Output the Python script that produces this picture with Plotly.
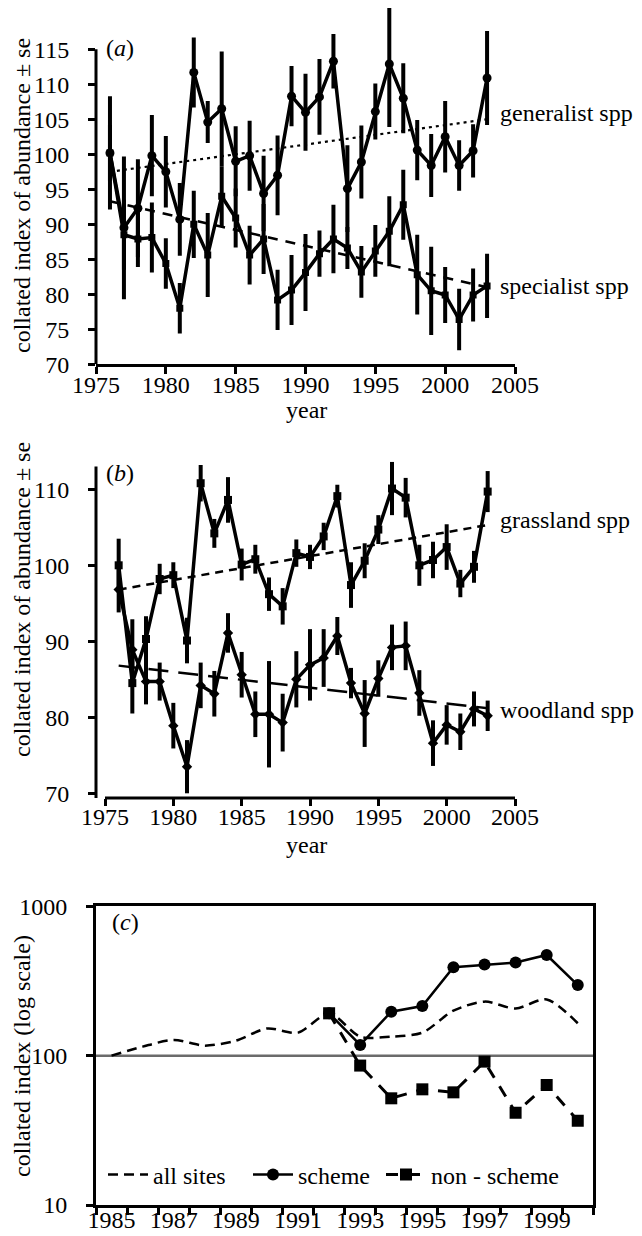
import plotly.graph_objects as go

# The page places the figure 8 px in from the top-left corner, so the figure is
# 8 px smaller than the window and every pixel position below is given in window
# coordinates and converted with that offset.
WIN_W, WIN_H = 642, 1236
OX, OY = 8, 8
W, H = WIN_W - OX, WIN_H - OY
FONT = "Liberation Serif, Times New Roman, Tinos, DejaVu Serif, serif"
FS = 24

# ---------------- data ----------------
# panel (a)
years_ab = list(range(1976, 2004))
generalist = [100.2, 89.5, 92.3, 99.8, 97.5, 90.7, 111.7, 104.6, 106.5, 99.0, 99.8, 94.4, 97.0, 108.3,
              106.0, 108.2, 113.3, 95.1, 98.9, 106.1, 112.9, 108.0, 100.6, 98.4, 102.5, 98.4, 100.5, 110.9]
generalist_se = [8.1, 10.2, 7.0, 5.8, 5.1, 5.2, 5.0, 3.0, 8.2, 5.0, 5.0, 5.4, 5.7, 4.3,
                 5.5, 5.4, 3.9, 6.2, 5.2, 4.0, 9.0, 5.0, 4.3, 4.5, 5.1, 3.6, 3.8, 6.7]
specialist = [100.2, 88.5, 87.9, 88.1, 84.4, 78.0, 90.0, 85.6, 94.0, 90.9, 85.6, 87.9, 79.2, 80.6,
              83.1, 85.8, 87.9, 86.6, 83.2, 86.2, 89.0, 92.8, 82.8, 80.5, 79.9, 76.4, 79.9, 81.2]
specialist_se = [4.0, 5.0, 4.0, 5.0, 3.6, 3.6, 4.8, 6.0, 4.3, 4.2, 4.2, 5.0, 4.3, 5.0,
                 5.5, 3.3, 4.9, 3.0, 3.7, 3.7, 5.0, 5.0, 5.7, 6.3, 4.0, 4.4, 3.8, 4.6]
trend_years = [1976, 2003]
generalist_trend = [97.5, 105.0]
specialist_trend = [93.3, 81.0]
ticks_a_x = [1975, 1980, 1985, 1990, 1995, 2000, 2005]
ticks_a_y = [70, 75, 80, 85, 90, 95, 100, 105, 110, 115]

# panel (b)
grassland = [100.0, 84.5, 90.3, 98.2, 98.7, 90.1, 110.8, 104.2, 108.6, 100.1, 100.8, 96.2, 94.6, 101.6,
             101.1, 103.8, 109.1, 97.4, 100.6, 104.7, 110.1, 108.9, 100.0, 100.7, 102.4, 97.6, 99.8, 109.7]
grassland_se = [3.5, 4.0, 3.0, 2.0, 1.7, 3.0, 2.4, 1.9, 3.0, 2.1, 1.9, 2.2, 2.4, 1.8,
                1.6, 1.8, 1.5, 3.0, 2.3, 1.9, 3.5, 2.6, 2.7, 2.4, 3.0, 1.8, 2.1, 2.7]
woodland = [96.8, 88.9, 84.7, 84.7, 78.9, 73.5, 84.2, 83.1, 91.1, 85.6, 80.4, 80.4, 79.3, 85.0,
            86.9, 87.8, 90.7, 84.5, 80.5, 85.1, 89.2, 89.4, 83.2, 76.6, 79.0, 78.1, 81.1, 80.2]
woodland_se = [3.0, 4.0, 3.0, 2.5, 3.0, 3.5, 3.0, 3.0, 2.6, 3.0, 3.0, 7.0, 3.8, 3.7,
               4.7, 3.8, 2.5, 2.0, 4.4, 2.4, 3.0, 3.2, 3.0, 3.0, 2.6, 2.4, 2.3, 2.0]
grassland_trend = [96.8, 105.3]
woodland_trend = [86.8, 81.2]
ticks_b_y = [70, 80, 90, 100, 110]

# panel (c)
years_c = list(range(1985, 2001))
all_sites = [100, 114.9, 127.4, 116.7, 126, 152, 142.6, 192, 134, 134, 142.6, 200, 230, 207, 238, 164.8]
years_scheme = list(range(1992, 2001))
scheme = [192, 118, 197, 215, 391, 407, 420, 472, 297]
non_scheme = [192, 85.8, 51.8, 59.5, 56.8, 91.2, 41.5, 63.7, 36.7]
ticks_c_x = [1985, 1987, 1989, 1991, 1993, 1995, 1997, 1999]
ticks_c_y = [10, 100, 1000]
reference_level = 100


# ---------------- layout helpers ----------------
def px(x):
    return (x - OX) / W


def py(y):
    return 1 - (y - OY) / H


BLACK = "black"
LW = 3.5
EBW = 4

fig = go.Figure()


def series(x, y, se, symbol, size, xa, ya):
    return go.Scatter(
        x=x, y=y, mode="lines+markers", xaxis=xa, yaxis=ya, showlegend=False,
        line=dict(color=BLACK, width=LW),
        marker=dict(symbol=symbol, size=size, color=BLACK),
        error_y=dict(type="data", array=se, visible=True, color=BLACK, thickness=EBW, width=0),
    )


# ---- panel (a) ----
fig.add_trace(go.Scatter(x=trend_years, y=generalist_trend, mode="lines", xaxis="x", yaxis="y",
                         showlegend=False, line=dict(color=BLACK, width=2.2, dash="3px,4px")))
fig.add_trace(go.Scatter(x=trend_years, y=specialist_trend, mode="lines", xaxis="x", yaxis="y",
                         showlegend=False, line=dict(color=BLACK, width=2.5, dash="10px,8px")))
fig.add_trace(series(years_ab, generalist, generalist_se, "circle", 9, "x", "y"))
fig.add_trace(series(years_ab, specialist, specialist_se, "square", 7, "x", "y"))

# ---- panel (b) ----
fig.add_trace(go.Scatter(x=trend_years, y=grassland_trend, mode="lines", xaxis="x2", yaxis="y2",
                         showlegend=False, line=dict(color=BLACK, width=2.5, dash="8px,6px")))
fig.add_trace(go.Scatter(x=trend_years, y=woodland_trend, mode="lines", xaxis="x2", yaxis="y2",
                         showlegend=False, line=dict(color=BLACK, width=2.5, dash="20px,10px")))
fig.add_trace(series(years_ab, grassland, grassland_se, "square", 8, "x2", "y2"))
fig.add_trace(series(years_ab, woodland, woodland_se, "diamond", 8, "x2", "y2"))

# ---- panel (c) ----
fig.add_trace(go.Scatter(x=years_c, y=all_sites, mode="lines", name="all sites", xaxis="x3", yaxis="y3",
                         legendwidth=90,
                         line=dict(color=BLACK, width=2.5, dash="10px,6px", shape="spline", smoothing=0.8)))
fig.add_trace(go.Scatter(x=years_scheme, y=scheme, mode="lines+markers", name="scheme", xaxis="x3", yaxis="y3",
                         legendwidth=78,
                         line=dict(color=BLACK, width=2.5), marker=dict(symbol="circle", size=12, color=BLACK)))
fig.add_trace(go.Scatter(x=years_scheme, y=non_scheme, mode="lines+markers", name="non - scheme",
                         xaxis="x3", yaxis="y3",
                         line=dict(color=BLACK, width=3, dash="12px,10px"),
                         marker=dict(symbol="square", size=12, color=BLACK)))

# ---------------- axes ----------------
tickfont = dict(family=FONT, size=FS, color=BLACK)
common = dict(showgrid=False, zeroline=False, ticks="outside", tickcolor=BLACK, tickwidth=2.5,
              ticklen=7, tickfont=tickfont, linecolor=BLACK, linewidth=3, automargin=False)

# panel (a): 1975 at px 96, 2005 at px 515; 70 at py 364.3, 7 px per unit
a_left, a_right, a_bottom, a_top = 96, 515, 364.3, OY
a_y_px_per_unit = 7.0
a_y_top_val = ticks_a_y[0] + (a_bottom - a_top) / a_y_px_per_unit

# panel (b): y axis at px 96, 1975 at px 105, 2005 at px 515; 110 at py 489.3, 7.6 px per unit
b_left, b_right, b_bottom, b_top = 96, 515, 798, 455
b_x0_px = 105
b_x_px_per_year = (b_right - b_x0_px) / (ticks_a_x[-1] - ticks_a_x[0])
b_x_start = ticks_a_x[0] - (b_x0_px - b_left) / b_x_px_per_year
b_ref_val, b_ref_px, b_ppu = 110, 489.3, 7.6
b_y_bottom = b_ref_val - (b_bottom - b_ref_px) / b_ppu
b_y_top = b_ref_val + (b_ref_px - b_top) / b_ppu

# panel (c)
c_left, c_right, c_bottom, c_top = 96, 593.3, 1205, 906.3
c_half = 0.5
c_minor = [y - c_half for y in years_c] + [years_c[-1] + c_half]

XSO = -10   # x tick label standoff
YSO = 14    # y tick label standoff

fig.update_layout(
    width=W, height=H, margin=dict(l=0, r=0, t=0, b=0, pad=0, autoexpand=False),
    plot_bgcolor="white", paper_bgcolor="white",
    font=dict(family=FONT, size=FS, color=BLACK),
    xaxis=dict(common, domain=[px(a_left), px(a_right)], range=[ticks_a_x[0], ticks_a_x[-1]],
               tickvals=ticks_a_x, showline=True, anchor="y", ticklabelstandoff=XSO),
    yaxis=dict(common, domain=[py(a_bottom), py(a_top)], range=[ticks_a_y[0], a_y_top_val],
               tickvals=ticks_a_y, showline=False, anchor="x", ticklabelstandoff=YSO),
    xaxis2=dict(common, domain=[px(b_left), px(b_right)], range=[b_x_start, ticks_a_x[-1]],
                tickvals=ticks_a_x, showline=False, anchor="y2", ticklabelstandoff=XSO),
    yaxis2=dict(common, domain=[py(b_bottom), py(b_top)], range=[b_y_bottom, b_y_top],
                tickvals=ticks_b_y, showline=False, anchor="x2", ticklabelstandoff=YSO),
    xaxis3=dict(common, domain=[px(c_left), px(c_right)], range=[years_c[0] - c_half, years_c[-1] + c_half],
                tickvals=ticks_c_x, ticks="", showline=True, mirror=True, anchor="y3",
                ticklabelstandoff=XSO + 1,
                minor=dict(tickmode="array", tickvals=c_minor, ticks="outside", ticklen=7,
                           tickwidth=2.5, tickcolor=BLACK, showgrid=False)),
    yaxis3=dict(common, type="log", domain=[py(c_bottom), py(c_top)], range=[1, 3],
                tickvals=ticks_c_y, ticktext=[str(v) for v in ticks_c_y],
                showline=True, mirror=True, anchor="x3", ticklabelstandoff=YSO),
    legend=dict(orientation="h", x=px(103), y=py(1175), xanchor="left", yanchor="middle",
                bgcolor="rgba(0,0,0,0)", font=dict(family=FONT, size=FS, color=BLACK),
                itemwidth=40, tracegroupgap=0),
    showlegend=True,
)

# axis lines drawn only over the labelled span
fig.add_shape(type="line", xref="x domain", yref="y", x0=0, x1=0, y0=ticks_a_y[0], y1=ticks_a_y[-1],
              line=dict(color=BLACK, width=3))
fig.add_shape(type="line", xref="x2 domain", yref="y2", x0=0, x1=0, y0=b_y_bottom, y1=113,
              line=dict(color=BLACK, width=3))
fig.add_shape(type="line", xref="x2", yref="y2 domain", x0=ticks_a_x[0], x1=ticks_a_x[-1], y0=0, y1=0,
              line=dict(color=BLACK, width=3))
# reference level in panel (c)
fig.add_shape(type="line", xref="x3 domain", yref="y3", x0=0, x1=1, y0=reference_level, y1=reference_level,
              line=dict(color="#6b6b6b", width=2.5), layer="below")


# ---------------- text ----------------
def ann(text, x, y, xanchor="left", angle=0, size=FS):
    fig.add_annotation(text=text, xref="paper", yref="paper", x=px(x), y=py(y), xanchor=xanchor,
                       yanchor="middle", showarrow=False, textangle=angle,
                       font=dict(family=FONT, size=size, color=BLACK))


ann("(<i>a</i>)", 104, 48)
ann("generalist spp", 498, 113)
ann("specialist spp", 498, 286)
ann("year", 306, 410, xanchor="center")
ann("collated index of abundance \u00b1 se", 22, 196, xanchor="center", angle=-90)

ann("(<i>b</i>)", 104, 473)
ann("grassland spp", 498, 520)
ann("woodland spp", 498, 710)
ann("year", 306, 845, xanchor="center")
ann("collated index of abundance \u00b1 se", 22, 600, xanchor="center", angle=-90)

ann("(<i>c</i>)", 110, 922)
ann("collated index (log scale)", 22, 1056, xanchor="center", angle=-90)

fig.write_html("out.html")
